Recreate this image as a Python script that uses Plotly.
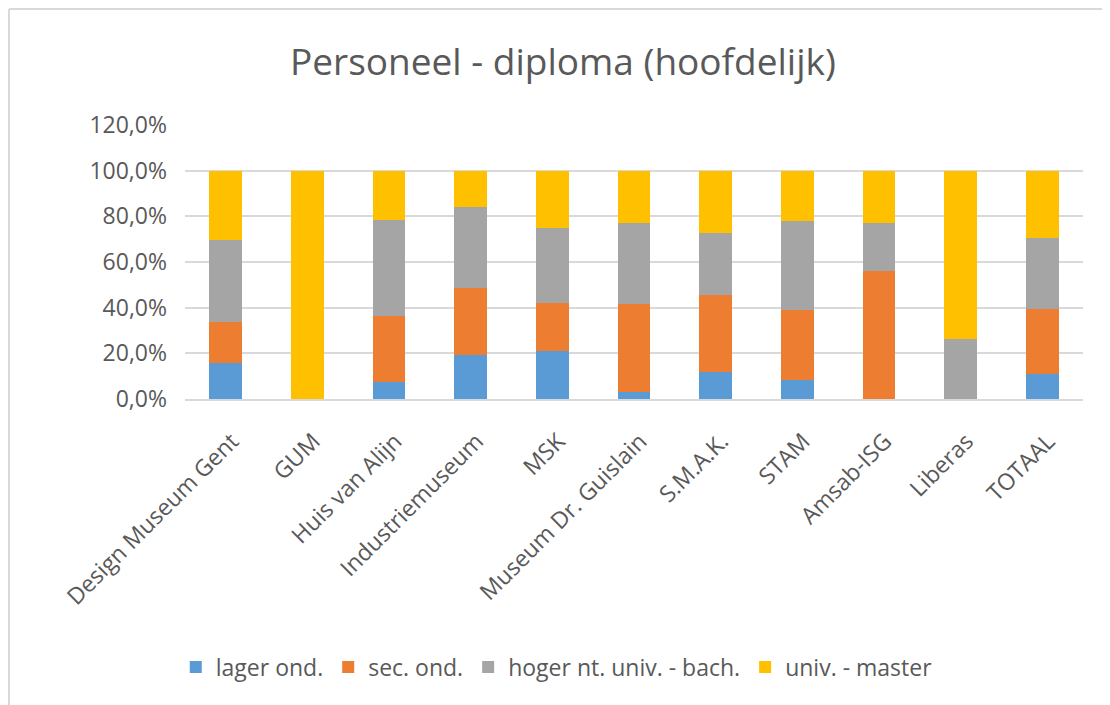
import plotly.graph_objects as go

categories = ["Design Museum Gent", "GUM", "Huis van Alijn", "Industriemuseum", "MSK",
              "Museum Dr. Guislain", "S.M.A.K.", "STAM", "Amsab-ISG", "Liberas", "TOTAAL"]
lager = [15.7, 0.0, 7.6, 19.2, 20.9, 2.9, 11.7, 8.3, 0.0, 0.0, 11.1]
sec = [18.0, 0.0, 28.9, 29.6, 21.1, 38.8, 34.0, 30.6, 56.2, 0.0, 28.1]
hoger = [36.0, 0.0, 42.0, 35.2, 32.7, 35.3, 26.9, 39.1, 20.7, 26.1, 31.4]
master = [30.3, 100.0, 21.5, 16.0, 25.3, 23.0, 27.4, 22.0, 23.1, 73.9, 29.4]
series_names = ["lager ond.", "sec. ond.", "hoger nt. univ. - bach.", "univ. - master"]
colors = ["#5B9BD5", "#ED7D31", "#A5A5A5", "#FFC000"]
yticks = [0, 0.2, 0.4, 0.6, 0.8, 1.0, 1.2]

fig = go.Figure()
for name, vals, col in zip(series_names, [lager, sec, hoger, master], colors):
    fig.add_trace(go.Bar(x=categories, y=[v / 100 for v in vals], name=name,
                         marker=dict(color=col, line=dict(width=0))))

font_fam = "'Open Sans', Lato, sans-serif"
W, H = 1102, 697
ml, mr, mt, mb = 177, 27, 117, 306
ph = H - mt - mb
fig.update_layout(
    barmode="stack", bargap=0.6,
    width=W, height=H,
    margin=dict(l=ml, r=mr, t=mt, b=mb),
    paper_bgcolor="white", plot_bgcolor="white",
    separators=", ",
    font=dict(family=font_fam, color="#595959", size=23),
    title=dict(text="Personeel - diploma (hoofdelijk)", x=0.5036, xanchor="center",
               y=1 - 54 / H, yanchor="middle", font=dict(size=37, color="#595959", family=font_fam)),
    legend=dict(orientation="h", x=0.414, xanchor="center", y=-268 / ph, yanchor="middle",
                font=dict(size=23, color="#595959"), traceorder="normal", itemwidth=30),
    showlegend=True,
)
fig.update_yaxes(range=[0, 1.2], tickvals=yticks, tickformat=".1%", showgrid=True,
                 gridcolor="#D9D9D9", gridwidth=1.5, zeroline=False, showline=False,
                 ticks="", ticklen=0, ticklabelstandoff=17, tickfont=dict(size=23, color="#595959"))
fig.update_xaxes(tickangle=-45, showline=True, linecolor="#D9D9D9", linewidth=1.5,
                 ticks="", ticklabelstandoff=18, ticklabelshift=6,
                 tickfont=dict(size=23, color="#595959"))
pw = W - ml - mr
fig.add_shape(type="line", xref="paper", yref="paper",
              x0=-(ml - 1) / pw, x1=(W - ml + 5) / pw, y0=(ph + mt - 1) / ph, y1=(ph + mt - 1) / ph,
              line=dict(color="#D9D9D9", width=2))
fig.add_shape(type="line", xref="paper", yref="paper",
              x0=-(ml - 1) / pw, x1=-(ml - 1) / pw, y0=-(mb + 5) / ph, y1=(ph + mt - 1) / ph,
              line=dict(color="#D9D9D9", width=2))
fig.write_html("out.html")
